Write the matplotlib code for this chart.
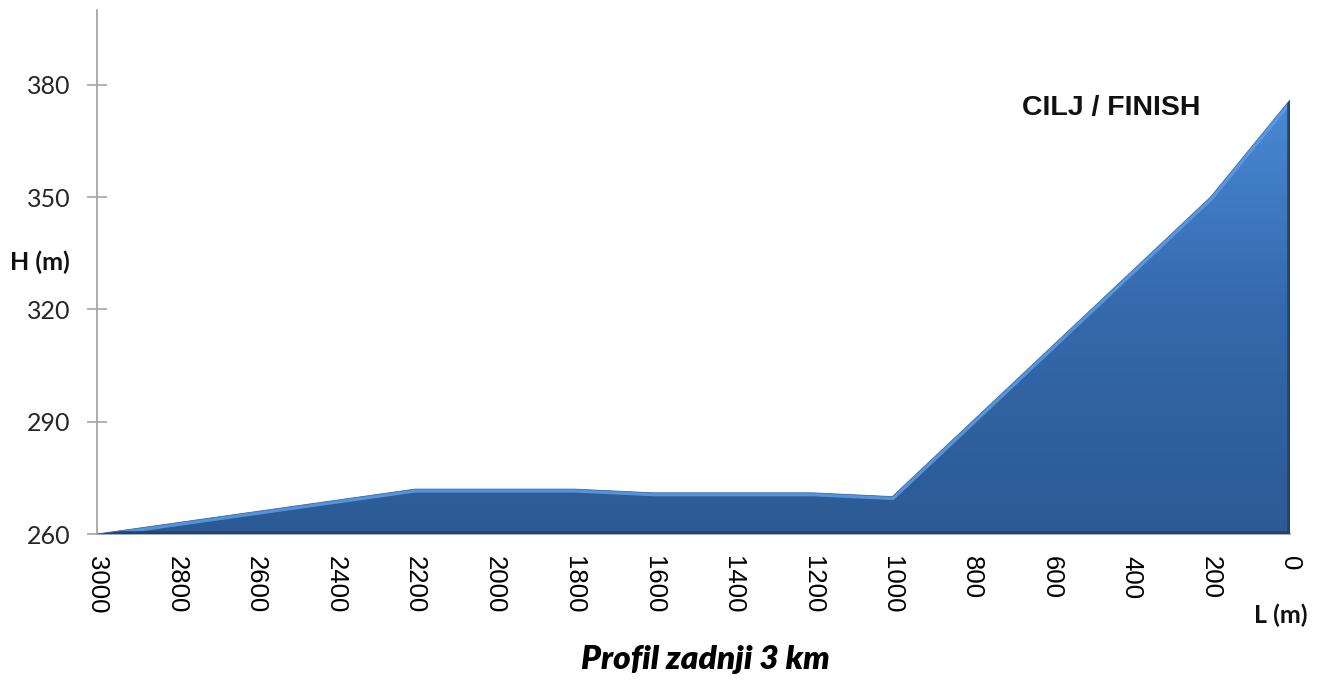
import numpy as np
import matplotlib
matplotlib.use("Agg")
import matplotlib.pyplot as plt
from matplotlib.colors import LinearSegmentedColormap
from matplotlib.patches import Polygon

# Data
distance = [3000, 2800, 2600, 2400, 2200, 2000, 1800, 1600, 1400, 1200, 1000, 800, 600, 400, 200, 0]
height = [260, 263, 266, 269, 272, 272, 272, 271, 271, 271, 270, 290, 310, 330, 350, 376]
x_labels = [str(v) for v in range(3000, -1, -200)]
y_ticks = [260, 290, 320, 350, 380]

fig = plt.figure(figsize=(13.19, 6.82), dpi=100)
ax = fig.add_axes([97 / 1319, 1 - 534 / 682, (1290 - 97) / 1319, (534 - 10) / 682])
ax.set_xlim(3000, 0)
ax.set_ylim(260, 400)

# Gradient-filled area
verts = [(distance[0], 260)] + list(zip(distance, height)) + [(distance[-1], 260)]
poly = Polygon(verts, closed=True, facecolor='none', edgecolor='none')
ax.add_patch(poly)
cmap = LinearSegmentedColormap.from_list('g', ['#2C5A94', '#3469AB', '#4A8AD6'])
grad = np.linspace(0, 1, 256).reshape(-1, 1)
im = ax.imshow(grad, extent=[3000, 0, 260, 378], origin='lower', cmap=cmap,
               aspect='auto', zorder=2, interpolation='bicubic')
im.set_clip_path(poly)

# bevel highlight along the top edge
hl, = ax.plot(distance, height, color='#5E9DE6', lw=5, zorder=3, solid_joinstyle='round', alpha=0.85)
hl.set_clip_path(poly)
ax.plot(distance, height, color='#3E72B4', lw=0.6, zorder=4)
# dark bottom / right edges
sh, = ax.plot([3000, 0, 0], [260, 260, height[-1]], color='#23426C', lw=4, zorder=3)
sh.set_clip_path(poly)

# Axes styling
for s in ['top', 'right']:
    ax.spines[s].set_visible(False)
for s in ['left', 'bottom']:
    ax.spines[s].set_color('#A6A6A6')
    ax.spines[s].set_linewidth(1.3)
    ax.spines[s].set_zorder(1)
ax.xaxis.set_zorder(5)

ax.set_yticks(y_ticks)
ax.set_yticklabels([str(v) for v in y_ticks], fontfamily='Lato', fontsize=18, color='#262626')
ax.tick_params(axis='y', direction='inout', length=14, width=1.2, color='#A6A6A6', pad=12)

ax.set_xticks(list(range(3000, -1, -200)))
ax.set_xticklabels(x_labels, fontfamily='Liberation Sans', fontsize=18.5, rotation=270)
ax.tick_params(axis='x', which='major', length=0, pad=16)
ax.set_xticks(list(range(3000, 0, -400)), minor=True)
ax.tick_params(axis='x', which='minor', direction='inout', length=13, width=1.2, color='#A6A6A6')

fig.text(10 / 1319, 1 - 262 / 682, 'H (m)', fontfamily='Lato', fontweight='bold',
         fontsize=18, va='center', ha='left', color='#111111')
fig.text(1308 / 1319, 1 - 615 / 682, 'L (m)', fontfamily='Lato', fontweight='bold',
         fontsize=18, va='center', ha='right', color='#111111')
fig.text(1022 / 1319, 1 - 108 / 682, 'CILJ / FINISH', fontfamily='Liberation Sans',
         fontweight='bold', fontsize=20.5, va='center', ha='left', color='#111111')
fig.text(705 / 1319, 1 - 660 / 682, 'Profil zadnji 3 km', fontfamily='Lato',
         fontweight='heavy', fontstyle='italic', fontsize=24, va='center', ha='center',
         color='#000000')

fig.savefig('out.png', dpi=100)
